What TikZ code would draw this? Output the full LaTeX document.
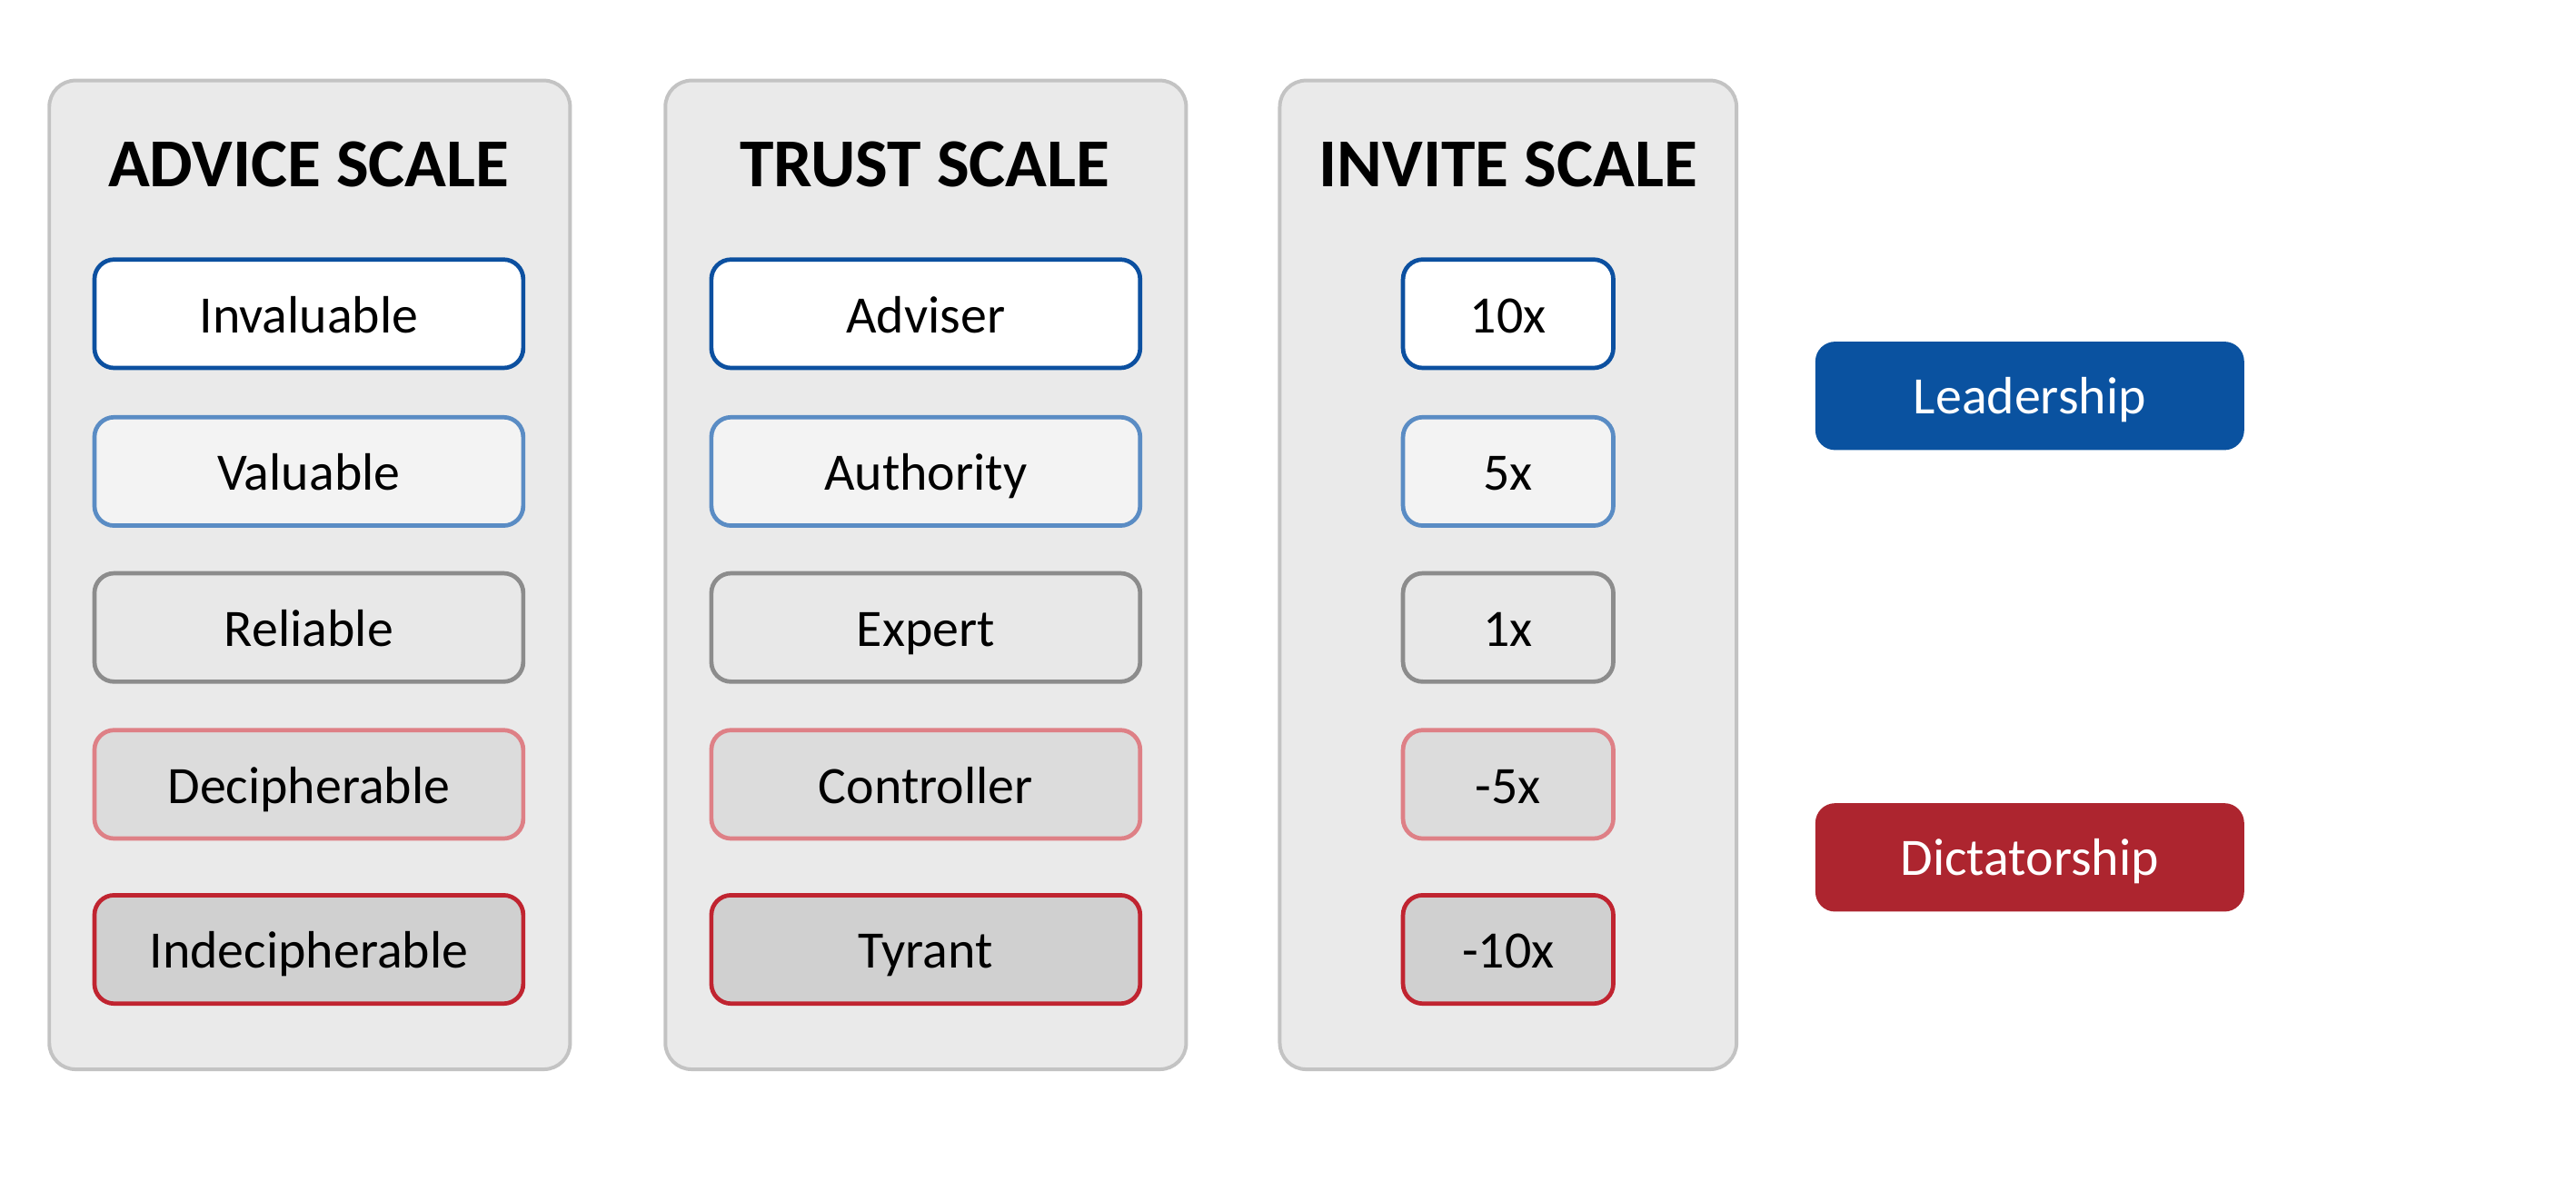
\documentclass[tikz,border=0pt]{standalone}
\usepackage{fontspec}
\setmainfont{Carlito}
\definecolor{panelfill}{RGB}{234,234,234}
\definecolor{panelborder}{RGB}{195,195,195}
\definecolor{bdA}{RGB}{12,80,160}
\definecolor{bdB}{RGB}{90,140,196}
\definecolor{bdC}{RGB}{140,140,140}
\definecolor{bdD}{RGB}{222,128,134}
\definecolor{bdE}{RGB}{192,36,48}
\definecolor{fiA}{RGB}{255,255,255}
\definecolor{fiB}{RGB}{243,243,243}
\definecolor{fiC}{RGB}{232,232,232}
\definecolor{fiD}{RGB}{220,220,220}
\definecolor{fiE}{RGB}{208,208,208}
\definecolor{leadblue}{RGB}{10,82,160}
\definecolor{dictred}{RGB}{173,37,47}
\begin{document}
\begin{tikzpicture}[x=0.5pt,y=-0.5pt,
  panel/.style={draw=panelborder, fill=panelfill, line width=1.1pt, rounded corners=8pt,
    minimum height=301pt, inner sep=0pt},
  title/.style={font=\fontsize{20.9}{25}\selectfont\bfseries, text height=0.644em, text depth=0pt, inner sep=0pt, yshift=-3pt},
  item/.style={rounded corners=6pt, line width=1.3pt, minimum height=33pt, inner sep=0pt,
    font=\fontsize{16}{19}\selectfont, text height=0.644em, text depth=0pt},
  lbl/.style={inner sep=0pt, font=\fontsize{16}{19}\selectfont, text height=0.644em, text depth=0pt},
  wide/.style={minimum width=130.5pt},
  narrow/.style={minimum width=64pt},
  rA/.style={item, draw=bdA, fill=fiA},
  rB/.style={item, draw=bdB, fill=fiB},
  rC/.style={item, draw=bdC, fill=fiC},
  rD/.style={item, draw=bdD, fill=fiD},
  rE/.style={item, draw=bdE, fill=fiE},
  result/.style={rounded corners=6pt, minimum width=130.5pt, minimum height=33pt, inner sep=0pt}
]
\useasboundingbox (0,0) rectangle (1568,718.5);

% panels
\node[panel, minimum width=158.5pt] (p1) at (188.5,350) {};
\node[panel, minimum width=158.5pt] (p2) at (563.5,350) {};
\node[panel, minimum width=139pt] (p3) at (918,350) {};

% titles
\node[title] (t1) at (188,101) {ADVICE SCALE};
\node[title] (t2) at (563,101) {TRUST SCALE};
\node[title] (t3) at (918,101) {INVITE SCALE};

% advice column
\node[rA, wide] (a1) at (188,191) {};
\node[rB, wide] (a2) at (188,287) {};
\node[rC, wide] (a3) at (188,382) {};
\node[rD, wide] (a4) at (188,477.5) {};
\node[rE, wide] (a5) at (188,578) {};

% trust column
\node[rA, wide] (b1) at (563.5,191) {};
\node[rB, wide] (b2) at (563.5,287) {};
\node[rC, wide] (b3) at (563.5,382) {};
\node[rD, wide] (b4) at (563.5,477.5) {};
\node[rE, wide] (b5) at (563.5,578) {};

% invite column
\node[rA, narrow] (c1) at (918,191) {};
\node[rB, narrow] (c2) at (918,287) {};
\node[rC, narrow] (c3) at (918,382) {};
\node[rD, narrow] (c4) at (918,477.5) {};
\node[rE, narrow] (c5) at (918,578) {};

% results
\node[result, fill=leadblue] (lead) at (1235.5,241) {};
\node[result, fill=dictred] (dict) at (1235.5,522) {};

% labels
\foreach \n/\t in {a1/Invaluable, a2/Valuable, a3/Reliable, a4/Decipherable, a5/Indecipherable,
                   b1/Adviser, b2/Authority, b3/Expert, b4/Controller, b5/Tyrant,
                   c1/10x, c2/5x, c3/1x, c4/-5x, c5/-10x}
  \node[lbl, yshift=-2.5pt] (\n l) at (\n.center) {\t};
\node[lbl, text=white, yshift=-2.2pt] (leadl) at (lead.center) {Leadership};
\node[lbl, text=white, yshift=-2.2pt] (dictl) at (dict.center) {Dictatorship};
\end{tikzpicture}
\end{document}
